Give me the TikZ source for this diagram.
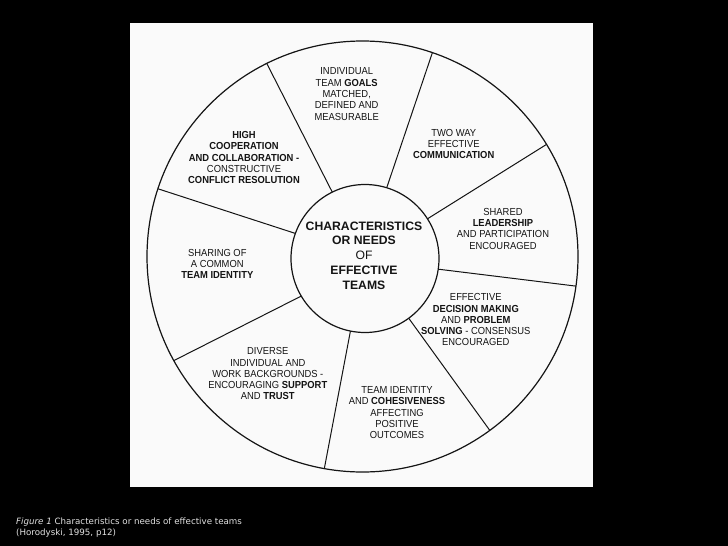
\documentclass[tikz,border=0pt]{standalone}
\usepackage{fontspec}
\usetikzlibrary{calc}
\newfontfamily\hv[FakeStretch=0.92]{Liberation Sans}
\newfontfamily\hvw{Liberation Sans}
\newfontfamily\capfont{DejaVu Sans}
\definecolor{page}{RGB}{250,250,250}
\definecolor{ink}{RGB}{20,20,20}
\definecolor{captext}{RGB}{225,225,225}
\begin{document}
\begin{tikzpicture}[x=1pt,y=-1pt,
  seg/.style={font=\hv\fontsize{10.2}{11.3}\selectfont, align=center, inner sep=0pt, text=ink},
  hub/.style={font=\hvw\fontsize{12.2}{14.8}\selectfont, align=center, inner sep=0pt, text=ink},
  spoke/.style={draw=ink, line width=1pt},
  rim/.style={draw=ink, line width=1.2pt},
  captionstyle/.style={font=\capfont\fontsize{8.7}{11.7}\selectfont, text=captext, inner sep=0pt, anchor=base west}]
\fill[black] (0,0) rectangle (728,546);
\useasboundingbox (0,0) rectangle (728,546);
\fill[page] (130,23) rectangle (593,487);

\coordinate (oc) at (362.5,256.5);
\coordinate (ic) at (365,258.5);

\coordinate (o1) at (266.7,63.3);  \coordinate (i1) at (331.7,191);
\coordinate (o2) at (433.3,50);    \coordinate (i2) at (387.3,186);
\coordinate (o3) at (548.3,143.3); \coordinate (i3) at (428.3,218.3);
\coordinate (o4) at (575,286);     \coordinate (i4) at (439.3,269.3);
\coordinate (o5) at (488.3,428.3); \coordinate (i5) at (410,320);
\coordinate (o6) at (325,465);     \coordinate (i6) at (350,333.3);
\coordinate (o7) at (175,360);     \coordinate (i7) at (300,296.7);
\coordinate (o8) at (161.7,190);   \coordinate (i8) at (295,233.3);

\begin{scope}
  \clip (oc) circle [radius=215.5pt];
  \foreach \a/\b in {o1/i1,o2/i2,o3/i3,o4/i4,o5/i5,o6/i6,o7/i7,o8/i8}
    \draw[spoke] ($(\a)!-0.1!(\b)$) -- ($(\a)!1.15!(\b)$);
\end{scope}
\draw[rim] (oc) circle [radius=215.5pt];
\draw[rim, fill=page] (ic) circle [radius=74pt];

\node[hub] (hubtext) at (364,255.5) {\textbf{CHARACTERISTICS}\\\textbf{OR NEEDS}\\OF\\\textbf{EFFECTIVE}\\\textbf{TEAMS}};

\node[seg] (goals) at (346.7,94.1) {INDIVIDUAL\\TEAM \textbf{GOALS}\\MATCHED,\\DEFINED AND\\MEASURABLE};
\node[seg] (coop) at (244,157.6) {\textbf{HIGH}\\\textbf{COOPERATION}\\\textbf{AND COLLABORATION -}\\CONSTRUCTIVE\\\textbf{CONFLICT RESOLUTION}};
\node[seg] (comm) at (453.7,144) {TWO WAY\\EFFECTIVE\\\textbf{COMMUNICATION}};
\node[seg] (lead) at (503,228.6) {SHARED\\\textbf{LEADERSHIP}\\AND PARTICIPATION\\ENCOURAGED};
\node[seg] (decide) at (475.8,319.8) {EFFECTIVE\\\textbf{DECISION MAKING}\\AND \textbf{PROBLEM}\\\textbf{SOLVING} - CONSENSUS\\ENCOURAGED};
\node[seg] (cohes) at (397,412.7) {TEAM IDENTITY\\AND \textbf{COHESIVENESS}\\AFFECTING\\POSITIVE\\OUTCOMES};
\node[seg] (diverse) at (267.8,373.8) {DIVERSE\\INDIVIDUAL AND\\WORK BACKGROUNDS -\\ENCOURAGING \textbf{SUPPORT}\\AND \textbf{TRUST}};
\node[seg] (sharing) at (217.3,264) {SHARING OF\\A COMMON\\\textbf{TEAM IDENTITY}};

\node[captionstyle] (cap1) at (16,524) {\textit{Figure 1} Characteristics or needs of effective teams};
\node[captionstyle] (cap2) at (16,535.7) {(Horodyski, 1995, p12)};
\end{tikzpicture}
\end{document}
